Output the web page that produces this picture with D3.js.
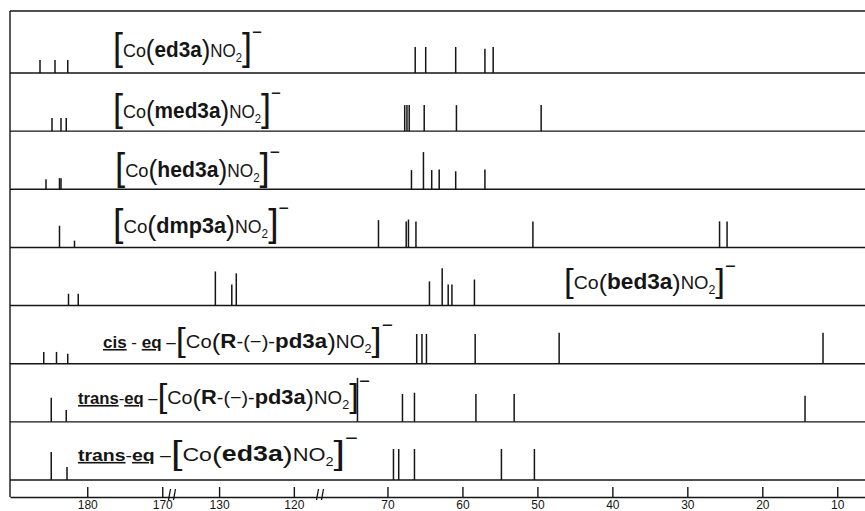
<!DOCTYPE html>
<html>
<head>
<meta charset="utf-8">
<script src="https://cdn.jsdelivr.net/npm/d3@7"></script>
<style>
  body { margin: 0; background: #fff; }
</style>
</head>
<body>
<div id="chart"></div>
<script>
// 13C shifts (ppm) and relative peak heights
const ed3aShift = [186.3, 184.3, 182.6, 66.3, 64.9, 60.9, 57.0, 55.9];
const ed3aInt = [21, 21, 21, 42, 42, 42, 39, 42];

const med3aShift = [184.7, 183.5, 182.8, 67.7, 67.4, 67.1, 65.1, 60.8, 49.5];
const med3aInt = [21, 21, 21, 42, 42, 42, 42, 42, 42];

const hed3aShift = [185.5, 183.7, 183.5, 66.8, 65.2, 64.1, 63.1, 60.9, 57.0];
const hed3aInt = [16, 18, 18, 31, 60, 31, 32, 29, 32];

const dmp3aShift = [183.7, 181.7, 71.2, 67.5, 67.2, 66.2, 50.6, 25.7, 24.7];
const dmp3aInt = [35, 11, 44, 42, 45, 42, 42, 42, 42];

const bed3aShift = [182.5, 181.2, 130.5, 128.3, 127.7, 64.4, 62.7, 61.9, 61.4, 58.4];
const bed3aInt = [19, 19, 55, 34, 52, 39, 60, 34, 34, 42];

const cisPd3aShift = [185.8, 184.1, 182.6, 66.1, 65.4, 64.8, 58.3, 47.1, 11.9];
const cisPd3aInt = [19, 19, 16, 48, 48, 48, 48, 50, 50];

const transPd3aShift = [184.8, 182.8, 74.0, 68.0, 66.4, 58.2, 53.1, 14.3];
const transPd3aInt = [39, 19, 71, 45, 47, 45, 45, 42];

const transEd3aShift = [184.8, 182.7, 69.2, 68.5, 66.4, 54.8, 50.4];
const transEd3aInt = [45, 21, 50, 50, 50, 50, 50];

const tickVals = [180, 170, 130, 120, 70, 60, 50, 40, 30, 20, 10];

const spectra = [
  { shift: ed3aShift, inten: ed3aInt },
  { shift: med3aShift, inten: med3aInt },
  { shift: hed3aShift, inten: hed3aInt },
  { shift: dmp3aShift, inten: dmp3aInt },
  { shift: bed3aShift, inten: bed3aInt },
  { shift: cisPd3aShift, inten: cisPd3aInt },
  { shift: transPd3aShift, inten: transPd3aInt },
  { shift: transEd3aShift, inten: transEd3aInt }
];

const chartW = 865;
const chartH = 511;
const frameX = 10;
const frameTop = 11;
const axisY = 497;
const ink = "#151515";
const font = "'Liberation Sans', Arial, sans-serif";

// broken ppm axis: 190-169 | 136-116 | 79-6
const x = d3.scaleLinear()
    .domain([190.3, 168.7, 136.3, 116.5, 79.0, 6.3])
    .range([frameX, 172, 172, 320, 320, chartW]);

const rowY = d3.scalePoint()
    .domain(d3.range(spectra.length))
    .range([73, 480]);

const yInt = d3.scaleLinear().domain([0, 100]).range([0, 62]);

const svg = d3.select("#chart")
    .append("svg")
    .attr("width", chartW)
    .attr("height", chartH);

// frame: top rule and left edge
svg.append("line")
    .attr("x1", frameX).attr("x2", chartW)
    .attr("y1", frameTop).attr("y2", frameTop)
    .attr("stroke", ink).attr("stroke-width", 1.4);

svg.append("line")
    .attr("x1", frameX).attr("x2", frameX)
    .attr("y1", frameTop).attr("y2", axisY)
    .attr("stroke", ink).attr("stroke-width", 1.4);

// one strip per spectrum
const rows = svg.selectAll(".row")
    .data(spectra)
    .enter().append("g")
    .attr("class", "row")
    .attr("transform", (d, i) => `translate(0,${rowY(i)})`);

rows.append("line")
    .attr("x1", frameX).attr("x2", chartW)
    .attr("y1", 0).attr("y2", 0)
    .attr("stroke", ink).attr("stroke-width", 1.4);

rows.selectAll(".peak")
    .data(d => d.shift.map((s, i) => ({ s: s, v: d.inten[i] })))
    .enter().append("line")
    .attr("class", "peak")
    .attr("x1", d => x(d.s)).attr("x2", d => x(d.s))
    .attr("y1", 0).attr("y2", d => -yInt(d.v))
    .attr("stroke", ink).attr("stroke-width", 1.5);

// x axis with ticks pointing up
const axis = d3.axisBottom(x)
    .tickValues(tickVals)
    .tickSizeInner(-10)
    .tickSizeOuter(0)
    .tickPadding(3);

const ag = svg.append("g")
    .attr("transform", `translate(0,${axisY})`)
    .call(axis);

ag.select(".domain").attr("stroke", ink).attr("stroke-width", 1.4);
ag.selectAll(".tick line").attr("stroke", ink).attr("stroke-width", 1.4);
ag.selectAll(".tick text")
    .attr("fill", ink)
    .style("font-family", font)
    .style("font-size", "12px");

// axis break marks
[172, 320].forEach(bx => {
    [-2.5, 2.5].forEach(off => {
        ag.append("line")
            .attr("x1", bx + off - 1).attr("x2", bx + off + 1)
            .attr("y1", 3).attr("y2", -8)
            .attr("stroke", ink).attr("stroke-width", 1.3);
    });
});

// labels
const complex = (lig, big) => [
    { t: "[", size: big, shift: 3 },
    { t: "Co", size: 19 },
    { t: "(", size: big * 0.72, shift: 2 },
    ...lig,
    { t: ")", size: big * 0.72, shift: 2 },
    { t: "NO", size: 18 },
    { t: "2", size: 12, shift: 5 },
    { t: "]", size: big, shift: 3 },
    { t: "\u2212", size: 18, shift: -big * 0.5 }
];

const lig = name => [{ t: name, size: 22, bold: true }];
const pd3a = [
    { t: "R", size: 21, bold: true },
    { t: "-(\u2212)-", size: 19 },
    { t: "pd3a", size: 21, bold: true }
];
const cisEq = [
    { t: "cis", size: 16, bold: true, u: true },
    { t: "\u00a0-\u00a0", size: 16 },
    { t: "eq", size: 16, bold: true, u: true },
    { t: "\u00a0\u2013", size: 16 }
];
const transEq = [
    { t: "trans", size: 16, bold: true, u: true },
    { t: "-", size: 16 },
    { t: "eq", size: 16, bold: true, u: true },
    { t: "\u00a0\u2013", size: 16 }
];

const labels = [
    { x: 113, y: 57, w: 149, parts: complex(lig("ed3a"), 38) },
    { x: 113, y: 118, w: 168, parts: complex(lig("med3a"), 38) },
    { x: 115, y: 177, w: 165, parts: complex(lig("hed3a"), 38) },
    { x: 113, y: 233, w: 176, parts: complex(lig("dmp3a"), 38) },
    { x: 564, y: 289, w: 172, parts: complex(lig("bed3a"), 34) },
    { x: 103, y: 348, w: 290, parts: cisEq.concat(complex(pd3a, 34)) },
    { x: 78, y: 404, w: 292, parts: transEq.concat(complex(pd3a, 34)) },
    { x: 78, y: 461, w: 280, parts: transEq.concat(complex(lig("ed3a"), 34)) }
];

labels.forEach(l => {
    const t = svg.append("text")
        .attr("x", l.x).attr("y", l.y)
        .attr("fill", ink)
        .style("font-family", font);
    let prev = 0;
    l.parts.forEach(p => {
        const s = p.shift || 0;
        t.append("tspan")
            .attr("dy", s - prev)
            .style("font-size", p.size + "px")
            .style("font-weight", p.bold ? 700 : 400)
            .style("text-decoration", p.u ? "underline" : null)
            .text(p.t);
        prev = s;
    });
    const w = t.node().getBBox().width;
    t.attr("transform", `translate(${l.x},0) scale(${l.w / w},1) translate(${-l.x},0)`);
});
</script>
</body>
</html>
